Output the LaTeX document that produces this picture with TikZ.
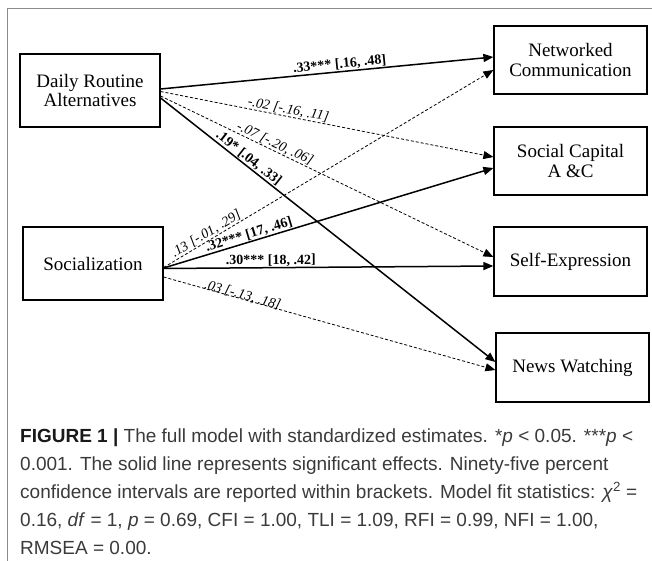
\documentclass[tikz,border=0pt]{standalone}
\usepackage{fontspec}
\setmainfont{Liberation Serif}
\newfontfamily\capfont{Liberation Sans}
\usetikzlibrary{arrows.meta,calc}
\definecolor{framegray}{HTML}{8C8C8C}
\definecolor{captext}{HTML}{3A3A3A}
\begin{document}
\begin{tikzpicture}[x=1pt,y=-1pt,
  box/.style={draw, line width=1.2pt, align=center, inner sep=0pt,
    font=\fontsize{19}{19.5}\selectfont},
  tipstyle/.style={-{Triangle[length=10pt,width=8pt]}},
  sig/.style={tipstyle, line width=1.5pt},
  nsig/.style={tipstyle, line width=0.8pt, dash pattern=on 3pt off 2pt},
  labb/.style={sloped, above, inner sep=0.5pt, font=\fontsize{14}{14}\selectfont\bfseries},
  labi/.style={sloped, above, inner sep=0.5pt, font=\fontsize{14}{14}\selectfont\itshape},
  capline/.style={anchor=base west, inner sep=0pt, text=captext,
    font=\capfont\fontsize{19}{19}\selectfont}
]
\useasboundingbox (0,0) rectangle (652,561);
% frame
\draw[framegray, line width=1.3pt] (652,8.5) -- (7.5,8.5) -- (7.5,561);

% boxes
\node[box, minimum width=140pt, minimum height=73pt] (dra) at (90,90.5) {Daily Routine\\Alternatives};
\node[box, minimum width=140pt, minimum height=73pt] (soc) at (93,263.5) {Socialization};
\node[box, minimum width=153pt, minimum height=68pt] (nc) at (570.5,60) {Networked\\Communication};
\node[box, minimum width=153pt, minimum height=68pt] (sc) at (570.5,161) {Social Capital\\A \&C};
\node[box, minimum width=153pt, minimum height=69pt] (se) at (570.5,261.5) {Self-Expression};
\node[box, minimum width=153pt, minimum height=69pt] (nw) at (572.5,367.5) {News Watching};

% paths from Daily Routine Alternatives
\draw[sig] ($(dra.east)+(0,-1.5)$) -- node[labb, pos=0.54] {.33*** [.16, .48]} ($(nc.west)+(0,-3)$);
\draw[nsig] ($(dra.east)+(0,1)$) -- node[labi, pos=0.38] {-.02 [-.16, .11]} ($(sc.west)+(0,-4)$);
\draw[nsig] ($(dra.east)+(0,5.5)$) -- node[labi, pos=0.335] {-.07 [-.20, .06]} ($(se.west)+(0,-4.5)$);
\draw[sig] ($(dra.east)+(0,7.5)$) -- node[labb, pos=0.25] {.19* [.04, .33]} ($(nw.west)+(0,-5.5)$);

% paths from Socialization
\draw[nsig] ($(soc.east)+(0,4)$) -- node[labi, pos=0.14] {.13 [-.01, .29]} ($(nc.west)+(0,10)$);
\draw[sig] ($(soc.east)+(0,4.5)$) -- node[labb, pos=0.265] {.32*** [17, .46]} ($(sc.west)+(0,7)$);
\draw[sig] ($(soc.east)+(0,5)$) -- node[labb, pos=0.325] {.30*** [18, .42]} ($(se.west)+(0,4.5)$);
\draw[nsig] ($(soc.east)+(0,13.5)$) -- node[labi, pos=0.235, anchor=base] {.03 [-.13, .18]} ($(nw.west)+(0,2.5)$);

% caption
\node[capline] (c1) at (20,442) {{\bfseries\color{black!90}FIGURE 1 |} The full model with standardized estimates. *\textit{p} < 0.05. ***\textit{p} <};
\node[capline] (c2) at (20,470) {0.001. The solid line represents significant effects. Ninety-five percent};
\node[capline] (c3) at (20,498) {confidence intervals are reported within brackets. Model fit statistics: \textit{χ}\textsuperscript{2} =};
\node[capline] (c4) at (20,526) {0.16, \textit{df} = 1, \textit{p} = 0.69, CFI = 1.00, TLI = 1.09, RFI = 0.99, NFI = 1.00,};
\node[capline] (c5) at (20,554) {RMSEA = 0.00.};
\end{tikzpicture}
\end{document}
